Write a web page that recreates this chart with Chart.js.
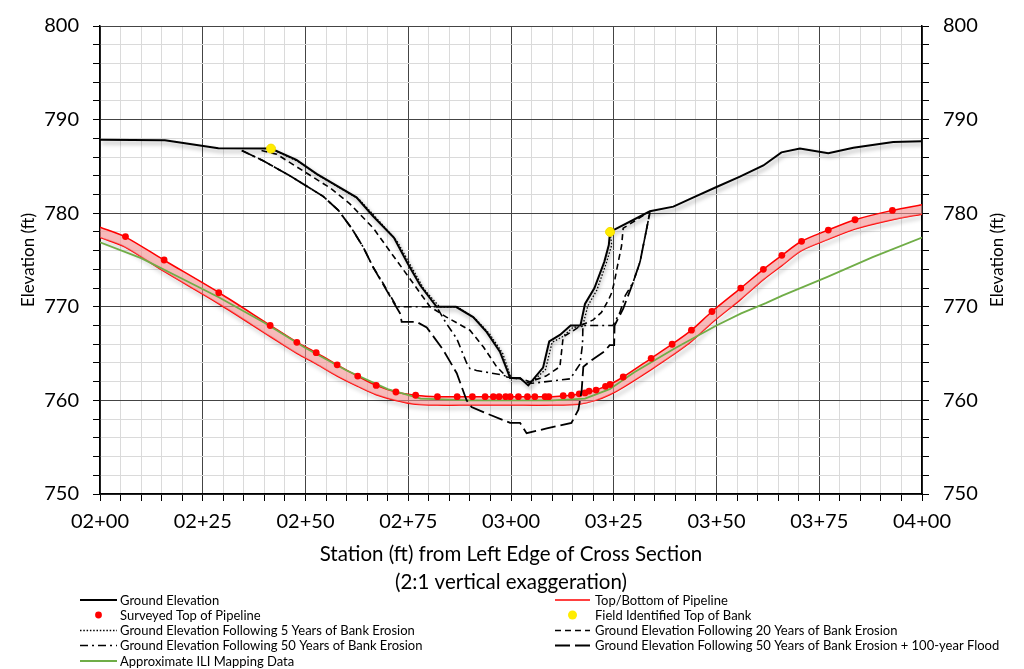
<!DOCTYPE html>
<html>
<head>
<meta charset="utf-8">
<script src="https://cdn.jsdelivr.net/npm/chart.js@4.4.1/dist/chart.umd.min.js"></script>
<style>
  html, body { margin: 0; padding: 0; background: #fff; }
  canvas { display: block; }
</style>
</head>
<body>
<canvas id="chart" width="1024" height="669"></canvas>
<script>
// stations in ft (200 = 02+00), elevations in ft
const groundStation = [200, 215.8, 228.8, 241.6, 247.8, 252.7, 262.4, 266.4, 271.5, 274.9, 277.9, 281.9, 286.6, 290.8, 294.1, 297.3, 299.8, 302.2, 304.2, 307.8, 309.3, 311.9, 314.5, 316.9, 318.0, 320.3, 322.7, 323.8, 324.1, 333.8, 339.5, 344.4, 350.0, 355.7, 361.4, 365.8, 370.3, 377.2, 383.3, 393.0, 400];
const groundElev = [787.85, 787.8, 786.95, 786.9, 785.7, 784.2, 781.7, 779.7, 777.4, 774.6, 772.3, 770.0, 770.0, 768.9, 767.3, 765.2, 762.4, 762.4, 761.6, 763.5, 766.3, 767.0, 768.0, 768.0, 770.3, 772.0, 774.8, 776.6, 778.0, 780.2, 780.7, 781.7, 782.8, 783.9, 785.1, 786.5, 786.9, 786.4, 787.0, 787.6, 787.7];

const yr5Station = [241.6, 248.3, 253.3, 263.0, 267.2, 272.3, 275.6, 278.8, 282.6, 287.0, 291.4, 294.8, 298.0, 300.0, 302.2, 304.2, 308.4, 310.0, 312.5, 315.1, 317.4, 318.7, 320.9, 323.2, 324.5, 324.1];
const yr5Elev = [786.9, 785.5, 784.0, 781.5, 779.5, 777.0, 774.4, 771.9, 770.0, 770.0, 768.7, 767.1, 765.0, 762.4, 762.4, 761.6, 763.3, 766.2, 766.8, 767.8, 767.9, 770.1, 771.8, 774.7, 776.6, 778.0];

const yr20Station = [239.3, 243.0, 249.5, 256.0, 260.8, 266.5, 270.6, 275.4, 280.3, 284.3, 290.0, 293.3, 296.5, 299.0, 302.5, 304.6, 308.5, 311.9, 312.7, 315.0, 317.0, 320.0, 322.0, 323.8, 324.6, 325.3, 326.1, 326.9, 327.3, 333.8];
const yr20Elev = [786.7, 786.3, 784.5, 782.7, 781.0, 778.4, 775.9, 773.0, 770.0, 768.9, 767.5, 765.7, 763.6, 762.5, 762.3, 762.0, 762.6, 763.6, 766.8, 767.4, 768.0, 768.6, 769.4, 770.8, 771.6, 773.0, 774.8, 776.5, 778.4, 780.2];

const yr50Station = [234.5, 239.7, 246.2, 254.3, 258.0, 261.2, 264.0, 266.5, 268.9, 272.2, 281.9, 284.3, 286.8, 289.2, 290.0, 291.6, 298.1, 299.8, 302.3, 304.6, 314.4, 316.8, 317.4, 317.5, 324.8, 326.5, 327.8, 329.7, 331.4, 333.8];
const yr50Elev = [786.7, 785.6, 784.0, 781.8, 780.3, 778.4, 776.4, 774.2, 772.5, 770.0, 770.0, 768.2, 766.6, 764.0, 763.4, 763.2, 762.7, 762.4, 762.3, 761.8, 762.3, 763.9, 766.0, 768.0, 768.0, 769.4, 771.2, 772.6, 774.8, 780.1];

const floodStation = [234.5, 239.7, 246.2, 254.3, 258.0, 261.2, 264.0, 266.5, 269.8, 273.0, 273.4, 277.0, 279.5, 283.5, 286.8, 289.2, 290.4, 294.1, 299.8, 302.2, 303.8, 308.7, 314.7, 316.4, 317.2, 317.6, 319.6, 322.9, 324.0, 325.1, 325.2, 327.3, 329.7, 331.4, 333.8];
const floodElev = [786.7, 785.6, 784.0, 781.8, 780.3, 778.4, 776.4, 774.2, 771.7, 769.3, 768.4, 768.4, 767.8, 765.4, 762.9, 760.0, 759.3, 758.6, 757.6, 757.6, 756.5, 757.0, 757.6, 759.0, 761.1, 763.6, 764.3, 765.3, 765.9, 765.9, 768.0, 769.8, 772.6, 774.8, 780.1];

const surveyStation = [206.2, 215.6, 228.9, 241.4, 247.9, 252.6, 257.7, 262.7, 267.2, 272.0, 276.8, 282.1, 286.9, 290.6, 293.7, 295.7, 297.1, 298.7, 299.8, 301.8, 304.0, 305.8, 308.3, 309.2, 312.7, 314.7, 316.6, 318.0, 319.0, 320.7, 323.0, 324.1, 327.3, 334.1, 339.2, 343.9, 348.9, 355.9, 361.4, 365.9, 370.7, 377.2, 383.7, 392.8];
const surveyElev = [777.5, 775.0, 771.5, 768.0, 766.2, 765.1, 763.8, 762.6, 761.6, 760.9, 760.55, 760.4, 760.4, 760.4, 760.4, 760.4, 760.4, 760.4, 760.4, 760.4, 760.4, 760.4, 760.4, 760.4, 760.5, 760.55, 760.7, 760.8, 761.0, 761.1, 761.5, 761.7, 762.5, 764.5, 766.0, 767.5, 769.5, 772.0, 774.0, 775.5, 777.0, 778.2, 779.3, 780.3];

const bankStation = [241.6, 324.1];
const bankElev = [786.9, 778.0];

const pipeStation = [200, 206, 215.5, 229, 241.5, 248, 252.6, 257.7, 262.7, 267.2, 272, 276.8, 282, 290, 300, 310, 316.5, 320.6, 324, 327.3, 334.1, 339.2, 343.9, 348.9, 355.9, 361.4, 365.9, 370.7, 377.2, 383.7, 392.8, 400];
const pipeTopElev = [778.5, 777.5, 775.0, 771.5, 768.0, 766.2, 765.1, 763.8, 762.6, 761.6, 760.9, 760.55, 760.4, 760.4, 760.4, 760.4, 760.65, 761.1, 761.7, 762.5, 764.5, 766.0, 767.5, 769.5, 772.0, 774.0, 775.5, 777.0, 778.2, 779.3, 780.3, 780.9];
const pipeBottomElev = [777.4, 776.4, 773.8, 770.3, 766.8, 765.0, 763.9, 762.6, 761.5, 760.6, 760.0, 759.6, 759.5, 759.5, 759.5, 759.5, 759.6, 760.0, 760.6, 761.4, 763.3, 764.8, 766.3, 768.3, 770.8, 772.9, 774.4, 776.0, 777.2, 778.3, 779.3, 779.9];

const iliStation = [200, 210, 220, 229, 240, 250, 260, 270, 278, 290, 310, 318, 324, 330, 340, 350, 356, 362, 366, 377, 388, 400];
const iliElev = [776.9, 775.2, 773.0, 771.0, 768.3, 765.6, 763.2, 761.2, 760.2, 760.0, 760.0, 760.2, 761.2, 763.0, 765.6, 768.0, 769.3, 770.4, 771.2, 773.2, 775.3, 777.4];

const legendRows = [
  ['Ground Elevation', 'Top/Bottom of Pipeline'],
  ['Surveyed Top of Pipeline', 'Field Identified Top of Bank'],
  ['Ground Elevation Following 5 Years of Bank Erosion', 'Ground Elevation Following 20 Years of Bank Erosion'],
  ['Ground Elevation Following 50 Years of Bank Erosion', 'Ground Elevation Following 50 Years of Bank Erosion + 100-year Flood'],
  ['Approximate ILI Mapping Data', null]
];

const FONT = 'Lato, "Open Sans", sans-serif';

function pts(xs, ys) {
  return xs.map((x, i) => ({ x: x, y: ys[i] }));
}

function stationLabel(v) {
  const h = Math.floor(v / 100);
  const r = Math.round(v - h * 100);
  return String(h).padStart(2, '0') + '+' + String(r).padStart(2, '0');
}

const lineDefaults = { showLine: true, pointRadius: 0, pointHoverRadius: 0, tension: 0, fill: false };

// first dataset is drawn on top
const datasets = [
  { label: 'Field Identified Top of Bank', data: pts(bankStation, bankElev), showLine: false,
    pointRadius: 4.5, pointBackgroundColor: '#ffec00', pointBorderColor: '#f5dc00', pointBorderWidth: 1 },
  Object.assign({}, lineDefaults, { label: 'Ground Elevation', data: pts(groundStation, groundElev),
    borderColor: '#000', borderWidth: 2, shadow: true }),
  Object.assign({}, lineDefaults, { label: 'Ground Elevation Following 5 Years of Bank Erosion', data: pts(yr5Station, yr5Elev),
    borderColor: '#000', borderWidth: 1.3, borderDash: [1.5, 1.8] }),
  Object.assign({}, lineDefaults, { label: 'Ground Elevation Following 20 Years of Bank Erosion', data: pts(yr20Station, yr20Elev),
    borderColor: '#000', borderWidth: 1.6, borderDash: [6, 4] }),
  Object.assign({}, lineDefaults, { label: 'Ground Elevation Following 50 Years of Bank Erosion', data: pts(yr50Station, yr50Elev),
    borderColor: '#000', borderWidth: 1.6, borderDash: [8, 4, 2, 4] }),
  Object.assign({}, lineDefaults, { label: 'Ground Elevation Following 50 Years of Bank Erosion + 100-year Flood', data: pts(floodStation, floodElev),
    borderColor: '#000', borderWidth: 1.8, borderDash: [15, 5] }),
  { label: 'Surveyed Top of Pipeline', data: pts(surveyStation, surveyElev), showLine: false,
    pointRadius: 3.4, pointBackgroundColor: '#ff0000', pointBorderColor: '#ff0000', pointBorderWidth: 0 },
  Object.assign({}, lineDefaults, { label: 'Approximate ILI Mapping Data', data: pts(iliStation, iliElev),
    borderColor: '#70ad47', borderWidth: 1.8 }),
  Object.assign({}, lineDefaults, { label: 'Top/Bottom of Pipeline', data: pts(pipeStation, pipeTopElev),
    borderColor: '#ff0000', borderWidth: 1.5, tension: 0.3, fill: '+1', backgroundColor: 'rgba(242,140,140,0.6)' }),
  Object.assign({}, lineDefaults, { label: 'Pipeline Bottom', data: pts(pipeStation, pipeBottomElev),
    borderColor: '#ff0000', borderWidth: 1.5, tension: 0.3, shadow: true })
];

const shadowPlugin = {
  id: 'shadow',
  beforeDatasetDraw(chart, args) {
    const ds = chart.data.datasets[args.index];
    chart.ctx.save();
    if (ds.shadow) {
      chart.ctx.shadowColor = 'rgba(0,0,0,0.35)';
      chart.ctx.shadowBlur = 4;
      chart.ctx.shadowOffsetX = 2;
      chart.ctx.shadowOffsetY = 3;
    }
  },
  afterDatasetDraw(chart) {
    chart.ctx.restore();
  }
};

function drawSample(ctx, ds, x0, x1, y) {
  ctx.save();
  if (ds.showLine === false) {
    ctx.fillStyle = ds.pointBackgroundColor;
    ctx.beginPath();
    ctx.arc((x0 + x1) / 2, y, ds.pointRadius, 0, Math.PI * 2);
    ctx.fill();
  } else {
    ctx.strokeStyle = ds.borderColor;
    ctx.lineWidth = ds.borderWidth;
    ctx.setLineDash(ds.borderDash || []);
    ctx.beginPath();
    ctx.moveTo(x0, y);
    ctx.lineTo(x1, y);
    ctx.stroke();
  }
  ctx.restore();
}

const extrasPlugin = {
  id: 'extras',
  afterDraw(chart) {
    const ctx = chart.ctx;
    const area = chart.chartArea;
    // right axis title, same rotation as the left one
    ctx.save();
    ctx.font = '17px ' + FONT;
    ctx.fillStyle = '#000';
    ctx.textAlign = 'center';
    ctx.textBaseline = 'middle';
    ctx.translate(998, (area.top + area.bottom) / 2);
    ctx.rotate(-Math.PI / 2);
    ctx.fillText('Elevation (ft)', 0, 0);
    ctx.restore();

    // two column legend
    const rowY = [600, 615, 630.5, 645.5, 661];
    const cols = [{ x0: 80, x1: 117, tx: 120 }, { x0: 555, x1: 590, tx: 595 }];
    ctx.save();
    ctx.font = '13px ' + FONT;
    ctx.fillStyle = '#000';
    ctx.textBaseline = 'middle';
    legendRows.forEach((row, r) => {
      row.forEach((label, c) => {
        if (!label) return;
        const ds = chart.data.datasets.find(d => d.label === label);
        drawSample(ctx, ds, cols[c].x0, cols[c].x1, rowY[r]);
        ctx.fillStyle = '#000';
        ctx.fillText(label, cols[c].tx, rowY[r] + 0.5);
      });
    });
    ctx.restore();
  }
};

const majorGrid = '#444';
const minorGrid = '#dadada';

new Chart(document.getElementById('chart'), {
  type: 'scatter',
  data: { datasets: datasets },
  options: {
    responsive: false,
    animation: false,
    events: [],
    layout: { padding: { top: 25, right: 0, bottom: 73, left: 0 } },
    plugins: { legend: { display: false }, tooltip: { enabled: false } },
    scales: {
      x: {
        type: 'linear', min: 200, max: 400,
        afterFit: s => { s.height = 102; },
        border: { color: '#000', width: 1.5 },
        grid: {
          color: c => (c.tick && c.tick.value % 25 === 0) ? majorGrid : minorGrid,
          tickColor: '#000', tickLength: 7, lineWidth: 1
        },
        ticks: {
          stepSize: 5, autoSkip: false, maxRotation: 0, padding: 9, color: '#000',
          font: { family: FONT, size: 20 },
          callback: v => (v % 25 === 0) ? stationLabel(v) : ''
        },
        title: {
          display: true,
          text: ['Station (ft) from Left Edge of Cross Section', '(2:1 vertical exaggeration)'],
          color: '#000', font: { family: FONT, size: 20.5, lineHeight: 1.35 },
          padding: { top: 0, bottom: 0 }
        }
      },
      y: {
        type: 'linear', position: 'left', min: 750, max: 800,
        afterFit: s => { s.width = 100; },
        border: { color: '#000', width: 1.5 },
        grid: {
          color: c => (c.tick && c.tick.value % 10 === 0) ? majorGrid : minorGrid,
          tickColor: '#000', tickLength: 7, lineWidth: 1
        },
        ticks: {
          stepSize: 2, autoSkip: false, padding: 14, color: '#000',
          font: { family: FONT, size: 20 },
          callback: v => (v % 10 === 0) ? String(v) : ''
        },
        title: {
          display: true, text: 'Elevation (ft)', color: '#000',
          font: { family: FONT, size: 17 }, padding: { top: 18, bottom: 0 }
        }
      },
      y2: {
        type: 'linear', position: 'right', min: 750, max: 800,
        afterFit: s => { s.width = 102; },
        border: { color: '#000', width: 1.5 },
        grid: { drawOnChartArea: false, tickColor: '#000', tickLength: 7 },
        ticks: {
          stepSize: 2, autoSkip: false, padding: 14, color: '#000',
          font: { family: FONT, size: 20 },
          callback: v => (v % 10 === 0) ? String(v) : ''
        }
      }
    }
  },
  plugins: [shadowPlugin, extrasPlugin]
});
</script>
</body>
</html>
